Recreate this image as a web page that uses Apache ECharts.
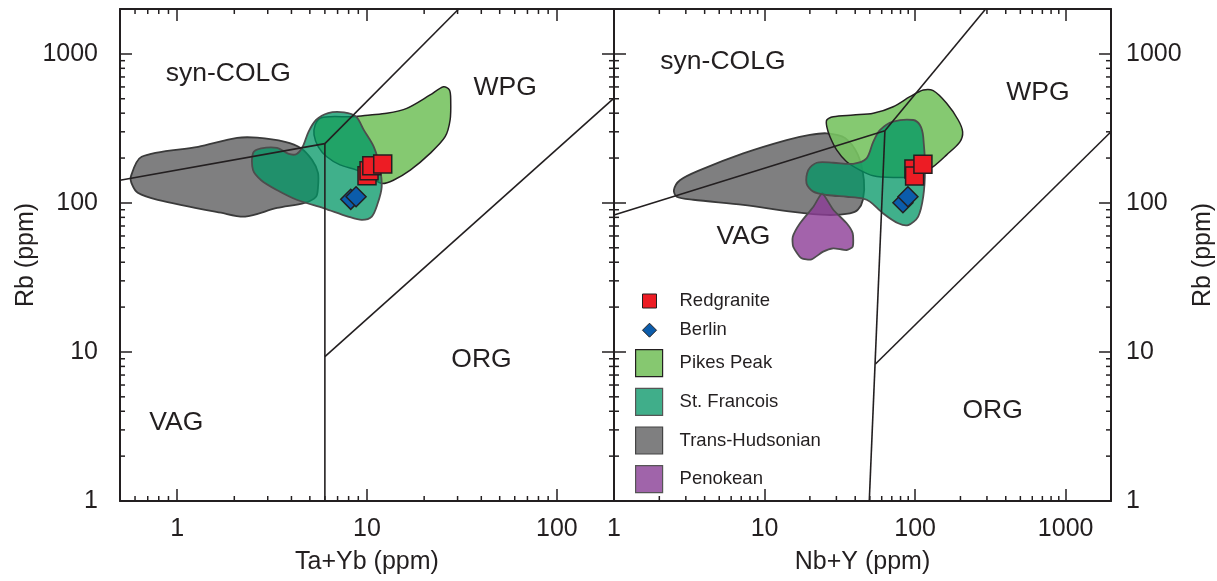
<!DOCTYPE html>
<html>
<head>
<meta charset="utf-8">
<script src="https://cdn.jsdelivr.net/npm/echarts@6/dist/echarts.min.js"></script>
<style>html,body{margin:0;padding:0;background:#fff}#c{width:1217px;height:581px}</style>
</head>
<body>
<div id="c"></div>
<script>
// ---------- DATA ----------
const seriesNames = ['Redgranite', 'Berlin', 'Pikes Peak', 'St. Francois', 'Trans-Hudsonian', 'Penokean'];

// Left panel: Rb vs Ta+Yb (ppm)
const redgraniteL = [[10.0, 152], [10.25, 164.5], [10.6, 177.7], [12.1, 182.4]];
const berlinL = [[8.21, 105.7], [8.76, 110]];
const transHudsonianL = [[0.57,150],[0.65,204],[1.29,238],[2.07,273],[2.64,274],[3.7,257],[4.47,234],[5.14,194],[5.52,159],[5.52,128],[5.39,110],[4.69,100],[3.36,92.5],[2.28,81],[1.7,86],[0.79,105],[0.62,117],[0.58,132]];
const stFrancoisL = [[2.51,216],[2.77,232],[3.36,234],[3.87,213],[4.26,213],[4.58,238],[4.92,300],[5.39,360],[6.24,401],[7.57,405],[8.76,379],[9.63,308],[10.86,238],[11.66,175],[11.95,128],[11.38,99],[10.6,81],[9.4,77],[7.95,81],[5.94,92],[4.26,105],[3.35,122],[2.77,142],[2.51,166]];
const pikesPeakL = [[5.26,286],[5.33,333],[5.66,370],[6.39,379],[8.48,379],[10.38,389],[12.71,399],[16.2,431],[21.5,530],[25.3,602],[27.2,572],[27.6,490],[27.4,360],[25.8,278],[21.5,215],[16.9,166],[13.77,142],[11.96,135],[10.38,150],[8.83,166],[7.21,180],[6.14,204],[5.54,238]];

// Right panel: Rb vs Nb+Y (ppm)
const redgraniteR = [[98.2, 168.9], [99.2, 151.6], [112.7, 181.6]];
const berlinR = [[83, 100.3], [89.6, 110]];
const transHudsonianR = [[2.5,122],[2.74,142],[3.72,166],[7.22,215],[14.0,264],[20.0,286],[25.9,293],[34.2,273],[41.7,210],[45.7,142],[45.0,105],[41.7,90],[36.9,85],[25.9,83],[15.5,87],[7.22,97],[3.36,105],[2.61,110]];
const penokeanR = [[24.3,116],[28.6,90],[35.1,73],[38.5,62.5],[38.5,50.8],[35.1,48.3],[28.6,49.6],[24.5,47.1],[20.5,41.8],[17.6,42.5],[15.5,50.8],[15.4,59.3],[17.2,73],[21.1,94.3],[23.1,110]];
const stFrancoisR = [[19.0,135],[19.5,166],[22.2,186],[28.6,186],[38.8,183],[47.6,199],[52.7,257],[58.4,308],[71.5,351],[97.1,360],[107.6,333],[113.2,278],[116.2,166],[113.2,110],[104.8,81],[90.0,71],[77.2,73],[61.4,85],[50.1,102],[45.2,107],[35.1,110],[25.9,113],[21.1,119]];
const pikesPeakR = [[25.9,360],[28.6,379],[38.8,389],[52.7,399],[71.5,442],[92.4,516],[113.2,572],[131.9,566],[161.9,466],[193.3,360],[206.8,300],[198.4,257],[161.9,210],[131.9,175],[113.2,162],[97.1,150],[71.5,148],[52.7,152],[43.0,166],[35.1,189],[30.1,227],[27.2,278],[25.9,325]];

// Discrimination boundaries (Pearce et al.)
const lineL_VAG_COLG = [[0.5, 142], [6, 250]];
const lineL_VAG_ORG = [[6, 1], [6, 250]];
const lineL_COLG_WPG = [[6, 250], [30.4, 2000]];
const lineL_ORG_WPG = [[6, 9.3], [200, 505]];
const lineR_VAG_COLG = [[1, 83], [63, 305]];
const lineR_VAG_ORG = [[49.6, 1], [63, 305]];
const lineR_COLG_WPG = [[63, 305], [294, 2000]];
const lineR_ORG_WPG = [[54.5, 8.3], [2000, 300]];

// Field labels
const regionNames = ['syn-COLG', 'WPG', 'ORG', 'VAG'];
const regionPosL = [[1.86, 741], [53.4, 595], [40.1, 8.87], [0.99, 3.37]];
const regionPosR = [[5.29, 882], [654, 546], [327, 4.04], [7.24, 59.7]];

// Ticks
const xTickLabelsL = [1, 10, 100];
const xTickLabelsR = [1, 10, 100, 1000];
const yTickLabels = [1, 10, 100, 1000];
const xMinorL = [0.6,0.7,0.8,0.9,2,3,4,5,6,7,8,9,20,30,40,50,60,70,80,90];
const xMinorR = [2,3,4,5,6,7,8,9,20,30,40,50,60,70,80,90,200,300,400,500,600,700,800,900];
const yMinor = [2,3,4,5,6,7,8,9,20,30,40,50,60,70,80,90,200,300,400,500,600,700,800,900];

// ---------- CHART ----------
const FONT = "'Liberation Sans', Arial, Helvetica, sans-serif";
const INK = '#231f20';
const XL = [0.5, 200], XR = [1, 2000], YR = [1, 2000];

const C = {
  red: '#ed1c24', blue: '#0b5cab',
  pikes: 'rgba(120,195,98,0.9)', pikesSolid: '#86c870',
  stf: 'rgba(0,150,100,0.75)', stfSolid: '#40ae8a',
  trans: '#7f7f80', pen: 'rgba(140,60,150,0.8)', penSolid: '#a064aa'
};

function fmt(list) {
  return function (v) {
    const m = list.find(t => Math.abs(t - v) / t < 1e-6);
    return m !== undefined ? String(m) : '';
  };
}

function xAxis(grid, ext, pos, labels, name) {
  return {
    type: 'log', logBase: 10, gridIndex: grid, min: ext[0], max: ext[1], position: pos,
    name: name || '', nameLocation: 'middle', nameGap: 49,
    nameTextStyle: { fontSize: 25, color: INK, fontFamily: FONT },
    axisLine: { show: true, onZero: false, lineStyle: { color: INK, width: 2 } },
    axisTick: { show: true, inside: true, length: 12, lineStyle: { color: INK, width: 1.5 } },
    minorTick: { show: false }, splitLine: { show: false }, minorSplitLine: { show: false },
    axisLabel: labels ? { show: true, formatter: fmt(labels), fontSize: 25, color: INK, margin: 16, fontFamily: FONT } : { show: false },
    silent: true
  };
}
function yAxis(grid, ext, pos, labels, name, gap, margin) {
  return {
    type: 'log', logBase: 10, gridIndex: grid, min: ext[0], max: ext[1], position: pos,
    name: name || '', nameLocation: 'middle', nameGap: gap || 0, nameRotate: 90,
    nameTextStyle: { fontSize: 25, color: INK, fontFamily: FONT },
    axisLine: { show: true, onZero: false, lineStyle: { color: INK, width: 2 } },
    axisTick: { show: true, inside: true, length: 12, lineStyle: { color: INK, width: 1.5 } },
    minorTick: { show: false }, splitLine: { show: false }, minorSplitLine: { show: false },
    axisLabel: labels ? { show: true, formatter: fmt(labels), fontSize: 25, color: INK, margin: margin, fontFamily: FONT } : { show: false },
    silent: true
  };
}

function minorTicks(xi, yi, xVals, yVals, xr, yr) {
  const data = xVals.map(v => [v, yr[0], 0]).concat(yVals.map(v => [xr[0], v, 1]));
  const L = 5;
  return {
    type: 'custom', xAxisIndex: xi, yAxisIndex: yi, silent: true, z: 1, clip: false,
    animation: false, data: data, encode: { x: 0, y: 1 },
    renderItem: function (params, api) {
      const st = { stroke: INK, lineWidth: 1.5 };
      if (api.value(2) === 0) {
        const b = api.coord([api.value(0), yr[0]]), t = api.coord([api.value(0), yr[1]]);
        return { type: 'group', children: [
          { type: 'line', shape: { x1: b[0], y1: b[1], x2: b[0], y2: b[1] - L }, style: st },
          { type: 'line', shape: { x1: t[0], y1: t[1], x2: t[0], y2: t[1] + L }, style: st }
        ] };
      }
      const l = api.coord([xr[0], api.value(1)]), r = api.coord([xr[1], api.value(1)]);
      return { type: 'group', children: [
        { type: 'line', shape: { x1: l[0], y1: l[1], x2: l[0] + L, y2: l[1] }, style: st },
        { type: 'line', shape: { x1: r[0], y1: r[1], x2: r[0] - L, y2: r[1] }, style: st }
      ] };
    }
  };
}

function polygon(name, pts, xi, yi, fill, stroke, lw, z, smooth) {
  return {
    type: 'custom', name: name, xAxisIndex: xi, yAxisIndex: yi, z: z, silent: true, animation: false,
    data: pts, encode: { x: 0, y: 1 }, itemStyle: { color: fill },
    renderItem: function (params, api) {
      if (params.dataIndex !== 0) return null;
      const points = pts.map(p => api.coord(p));
      return { type: 'polygon', shape: { points: points, smooth: smooth }, style: { fill: fill, stroke: stroke, lineWidth: lw } };
    }
  };
}

function boundary(pts, xi, yi) {
  return { type: 'line', data: pts, xAxisIndex: xi, yAxisIndex: yi, symbol: 'none', showSymbol: false,
    lineStyle: { color: INK, width: 1.6 }, z: 6, silent: true, animation: false };
}

function fieldLabels(pos, xi, yi) {
  return { type: 'scatter', xAxisIndex: xi, yAxisIndex: yi, z: 7, silent: true, animation: false,
    symbolSize: 1, itemStyle: { color: 'rgba(0,0,0,0)', opacity: 1 },
    data: pos.map((p, i) => [p[0], p[1], regionNames[i]]),
    label: { show: true, position: 'inside', formatter: p => p.data[2], fontSize: 26.5, color: INK,
      opacity: 1, fontFamily: FONT, fontWeight: 'normal' } };
}

function markers(name, pts, xi, yi, symbol, size, color) {
  return { type: 'scatter', name: name, data: pts, xAxisIndex: xi, yAxisIndex: yi, z: 8, silent: true,
    animation: false, symbol: symbol, symbolSize: size,
    itemStyle: { color: color, borderColor: INK, borderWidth: 1.5, opacity: 1 } };
}

const chart = echarts.init(document.getElementById('c'), null, { renderer: 'canvas' });
chart.setOption({
  animation: false,
  backgroundColor: '#ffffff',
  textStyle: { fontFamily: FONT },
  grid: [
    { left: 120, top: 9, width: 494, height: 492, outerBoundsMode: 'none', containLabel: false },
    { left: 614, top: 9, width: 497, height: 492, outerBoundsMode: 'none', containLabel: false }
  ],
  xAxis: [
    xAxis(0, XL, 'bottom', xTickLabelsL, 'Ta+Yb (ppm)'),
    xAxis(0, XL, 'top', null, ''),
    xAxis(1, XR, 'bottom', xTickLabelsR, 'Nb+Y (ppm)'),
    xAxis(1, XR, 'top', null, '')
  ],
  yAxis: [
    yAxis(0, YR, 'left', yTickLabels, 'Rb (ppm)', 81, 22),
    yAxis(0, YR, 'right', null, ''),
    yAxis(1, YR, 'left', null, ''),
    yAxis(1, YR, 'right', yTickLabels, 'Rb (ppm)', 80, 15)
  ],
  legend: [
    { orient: 'vertical', left: 642, top: 291.5, itemWidth: 14, itemHeight: 14, itemGap: 10.2, padding: 0,
      selectedMode: false, textStyle: { fontSize: 18.5, color: INK, fontFamily: FONT, padding: [0, 0, 0, 18], lineHeight: 14 },
      data: [
        { name: seriesNames[0], icon: 'rect', itemStyle: { color: C.red, borderColor: INK, borderWidth: 1 } },
        { name: seriesNames[1], icon: 'diamond', itemStyle: { color: C.blue, borderColor: INK, borderWidth: 1 } }
      ] },
    { orient: 'vertical', left: 635, top: 349, itemWidth: 27, itemHeight: 27, itemGap: 10.5, padding: 0,
      selectedMode: false, textStyle: { fontSize: 18.5, color: INK, fontFamily: FONT, padding: [0, 0, 0, 12], lineHeight: 27 },
      data: [
        { name: seriesNames[2], icon: 'rect', itemStyle: { color: C.pikesSolid, borderColor: INK, borderWidth: 1.2 } },
        { name: seriesNames[3], icon: 'rect', itemStyle: { color: C.stfSolid, borderColor: '#555', borderWidth: 1.2 } },
        { name: seriesNames[4], icon: 'rect', itemStyle: { color: C.trans, borderColor: '#444', borderWidth: 1.2 } },
        { name: seriesNames[5], icon: 'rect', itemStyle: { color: C.penSolid, borderColor: '#555', borderWidth: 1.2 } }
      ] }
  ],
  series: [
    minorTicks(0, 0, xMinorL, yMinor, XL, YR),
    minorTicks(2, 3, xMinorR, yMinor, XR, YR),
    // left polygons
    polygon(seriesNames[4], transHudsonianL, 0, 0, C.trans, '#3a3a3a', 1.8, 2, 0.3),
    polygon(seriesNames[2], pikesPeakL, 0, 0, C.pikes, INK, 1.5, 3, 0.3),
    polygon(seriesNames[3], stFrancoisL, 0, 0, C.stf, '#4d4d4d', 1.8, 4, 0.3),
    // right polygons
    polygon(seriesNames[4], transHudsonianR, 2, 3, C.trans, '#3a3a3a', 1.8, 2, 0.3),
    polygon(seriesNames[5], penokeanR, 2, 3, C.pen, '#4d4d4d', 1.8, 3, 0.2),
    polygon(seriesNames[2], pikesPeakR, 2, 3, C.pikes, INK, 1.5, 4, 0.3),
    polygon(seriesNames[3], stFrancoisR, 2, 3, C.stf, '#4d4d4d', 1.8, 5, 0.3),
    // boundaries
    boundary(lineL_VAG_COLG, 0, 0), boundary(lineL_VAG_ORG, 0, 0), boundary(lineL_COLG_WPG, 0, 0), boundary(lineL_ORG_WPG, 0, 0),
    boundary(lineR_VAG_COLG, 2, 3), boundary(lineR_VAG_ORG, 2, 3), boundary(lineR_COLG_WPG, 2, 3), boundary(lineR_ORG_WPG, 2, 3),
    // field labels
    fieldLabels(regionPosL, 0, 0), fieldLabels(regionPosR, 2, 3),
    // samples
    markers(seriesNames[0], redgraniteL, 0, 0, 'rect', 18, C.red),
    markers(seriesNames[1], berlinL, 0, 0, 'diamond', 20, C.blue),
    markers(seriesNames[0], redgraniteR, 2, 3, 'rect', 18, C.red),
    markers(seriesNames[1], berlinR, 2, 3, 'diamond', 20, C.blue)
  ]
});
</script>
</body>
</html>
